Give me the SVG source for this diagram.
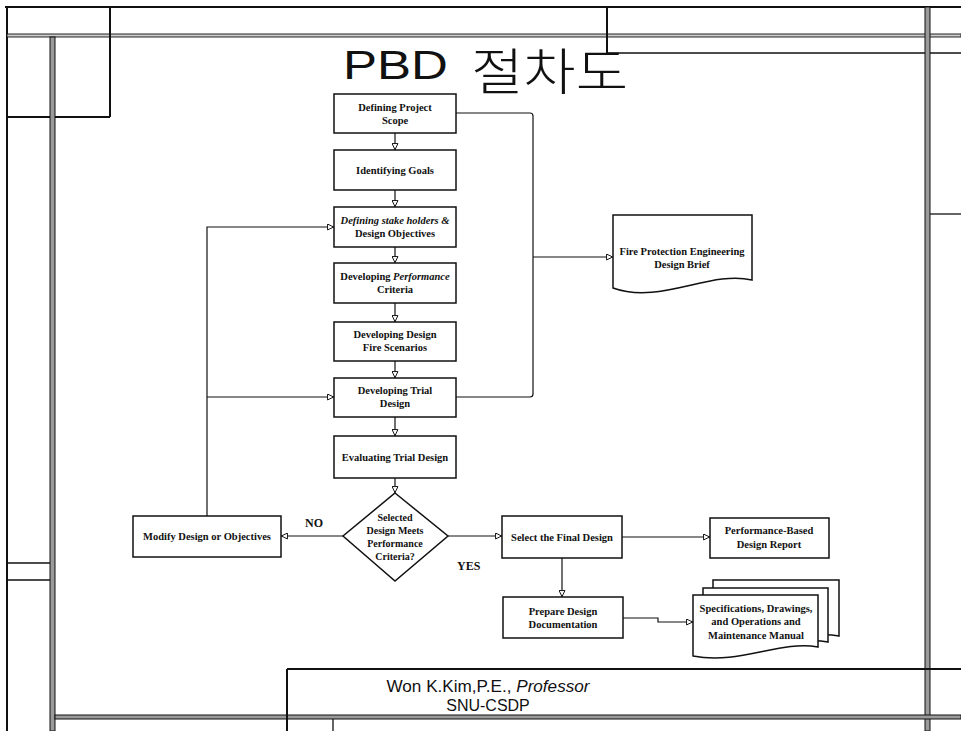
<svg xmlns="http://www.w3.org/2000/svg" width="961" height="731" viewBox="0 0 961 731">
<style>
.frame{fill:none;stroke:#111;stroke-width:2}
.thin{fill:none;stroke:#111;stroke-width:1.3}
.band{fill:#9a9a9a;stroke:#111;stroke-width:1}
.box{fill:#fff;stroke:#111;stroke-width:1.5}
.lbl{font-family:"Liberation Serif","Times New Roman",serif;font-weight:bold;font-size:10.5px;fill:#111;text-anchor:middle}
.it{font-style:italic}
.conn{fill:none;stroke:#111;stroke-width:1.2}
.tag{font-family:"Liberation Serif","Times New Roman",serif;font-weight:bold;font-size:12px;fill:#111}
.sig{font-family:"Liberation Sans",Arial,sans-serif;font-size:16px;fill:#111;text-anchor:middle}
</style>
<defs>
<marker id="arr" viewBox="0 0 10 10" refX="10" refY="5" markerWidth="7" markerHeight="7" markerUnits="userSpaceOnUse" orient="auto">
<path d="M0.8,0.8 L9.5,5 L0.8,9.2 Z" fill="#fff" stroke="#111" stroke-width="1.4"/>
</marker>
</defs>
<rect width="961" height="731" fill="#fff"/>

<g id="frame">
<line class="frame" x1="5" y1="7" x2="961" y2="7"/>
<line class="frame" x1="7" y1="7" x2="7" y2="731"/>
<rect x="7" y="34" width="954" height="3" fill="#ccc" stroke="#111" stroke-width="0.9"/>
<line class="frame" x1="110" y1="7" x2="110" y2="117"/>
<line class="frame" x1="7" y1="117" x2="110" y2="117"/>
<rect class="band" x="50" y="37" width="5" height="694"/>
<line class="thin" x1="7" y1="563" x2="50" y2="563"/>
<line class="thin" x1="7" y1="580" x2="50" y2="580"/>
<line class="frame" x1="607" y1="7" x2="607" y2="53"/>
<line class="thin" x1="607" y1="53" x2="961" y2="53"/>
<rect class="band" x="925" y="7" width="5" height="724"/>
<line class="thin" x1="930" y1="214" x2="961" y2="214"/>
<rect class="band" x="55" y="715" width="906" height="4"/>
<line class="frame" x1="287" y1="669" x2="961" y2="669"/>
<line class="frame" x1="287" y1="669" x2="287" y2="731"/>
<line class="thin" x1="333" y1="719" x2="333" y2="731"/>
</g>

<g id="title">
<text x="343" y="79" font-family="Liberation Sans,Arial,sans-serif" font-size="41" textLength="105" lengthAdjust="spacingAndGlyphs" fill="#111">PBD</text>
<text x="471" y="90" font-family="'Noto Sans CJK KR',sans-serif" font-size="50" font-weight="300" textLength="157" lengthAdjust="spacingAndGlyphs" fill="#111">절차도</text>
</g>

<g id="connectors">
<path class="conn" d="M395,133 V150" marker-end="url(#arr)"/>
<path class="conn" d="M395,190 V207" marker-end="url(#arr)"/>
<path class="conn" d="M395,247 V263" marker-end="url(#arr)"/>
<path class="conn" d="M395,303 V322" marker-end="url(#arr)"/>
<path class="conn" d="M395,361 V378" marker-end="url(#arr)"/>
<path class="conn" d="M395,417 V436" marker-end="url(#arr)"/>
<path class="conn" d="M395,478 V493" marker-end="url(#arr)"/>
<path class="conn" d="M343,536 H281" marker-end="url(#arr)"/>
<path class="conn" d="M448,536 H502" marker-end="url(#arr)"/>
<path class="conn" d="M207,516 V227 H334" marker-end="url(#arr)"/>
<path class="conn" d="M207,397 H334" marker-end="url(#arr)"/>
<path class="conn" d="M456,113 H530 Q533,113 533,116 V394 Q533,397 530,397 H456"/>
<path class="conn" d="M533,257 H613" marker-end="url(#arr)"/>
<path class="conn" d="M622,537 H710" marker-end="url(#arr)"/>
<path class="conn" d="M562,558 V597" marker-end="url(#arr)"/>
<path class="conn" d="M623,618 H658 V622 H693" marker-end="url(#arr)"/>
</g>

<g id="n1"><rect class="box" x="334" y="94" width="122" height="39"/>
<text class="lbl" x="395" y="111">Defining Project</text><text class="lbl" x="395" y="124">Scope</text></g>
<g id="n2"><rect class="box" x="334" y="150" width="122" height="40"/>
<text class="lbl" x="395" y="174">Identifying  Goals</text></g>
<g id="n3"><rect class="box" x="334" y="207" width="122" height="40"/>
<text class="lbl it" x="395" y="224">Defining stake holders &amp;</text><text class="lbl" x="395" y="237">Design Objectives</text></g>
<g id="n4"><rect class="box" x="334" y="263" width="122" height="40"/>
<text class="lbl" x="395" y="280">Developing <tspan class="it">Performance</tspan></text><text class="lbl" x="395" y="293">Criteria</text></g>
<g id="n5"><rect class="box" x="334" y="322" width="122" height="39"/>
<text class="lbl" x="395" y="338">Developing Design</text><text class="lbl" x="395" y="351">Fire Scenarios</text></g>
<g id="n6"><rect class="box" x="334" y="378" width="122" height="39"/>
<text class="lbl" x="395" y="394">Developing Trial</text><text class="lbl" x="395" y="407">Design</text></g>
<g id="n7"><rect class="box" x="334" y="436" width="122" height="42"/>
<text class="lbl" x="395" y="461">Evaluating Trial Design</text></g>
<g id="n8"><path class="box" d="M395,493 L448,536 L395,581 L343,536 Z"/>
<text class="lbl" x="395" y="521" style="font-size:10px">Selected</text>
<text class="lbl" x="395" y="534" style="font-size:10px">Design Meets</text>
<text class="lbl" x="395" y="547" style="font-size:10px">Performance</text>
<text class="lbl" x="395" y="560" style="font-size:10px">Criteria?</text></g>
<g id="n9"><rect class="box" x="133" y="516" width="148" height="41"/>
<text class="lbl" x="207" y="540">Modify Design or Objectives</text></g>
<g id="n10"><rect class="box" x="502" y="516" width="120" height="42"/>
<text class="lbl" x="562" y="541">Select  the Final Design</text></g>
<g id="n11"><rect class="box" x="710" y="518" width="119" height="40"/>
<text class="lbl" x="769" y="534">Performance-Based</text><text class="lbl" x="769" y="548">Design Report</text></g>
<g id="n12"><rect class="box" x="503" y="597" width="120" height="41"/>
<text class="lbl" x="563" y="615">Prepare Design</text><text class="lbl" x="563" y="628">Documentation</text></g>
<g id="n13"><path class="box" d="M613,215 H752 V280 C710,270 660,305 613,288 Z"/>
<text class="lbl" x="682" y="255">Fire Protection Engineering</text><text class="lbl" x="682" y="268">Design Brief</text></g>
<g id="n14">
<path class="box" d="M713,580 H839 V636 C800,629 760,654 713,645 Z"/>
<path class="box" d="M703,588 H828 V642 C790,635 750,660 703,651 Z"/>
<path class="box" d="M693,595 H818 V647 C780,640 740,665 693,656 Z"/>
<text class="lbl" x="756" y="612">Specifications, Drawings,</text>
<text class="lbl" x="756" y="625">and Operations and</text>
<text class="lbl" x="756" y="639">Maintenance Manual</text></g>

<g id="labels">
<text class="tag" x="305" y="527">NO</text>
<text class="tag" x="457" y="570">YES</text>
</g>

<g id="signature">
<text class="sig" x="488" y="692" textLength="203" lengthAdjust="spacingAndGlyphs">Won K.Kim,P.E., <tspan font-style="italic">Professor</tspan></text>
<text class="sig" x="488" y="711">SNU-CSDP</text>
</g>
</svg>
